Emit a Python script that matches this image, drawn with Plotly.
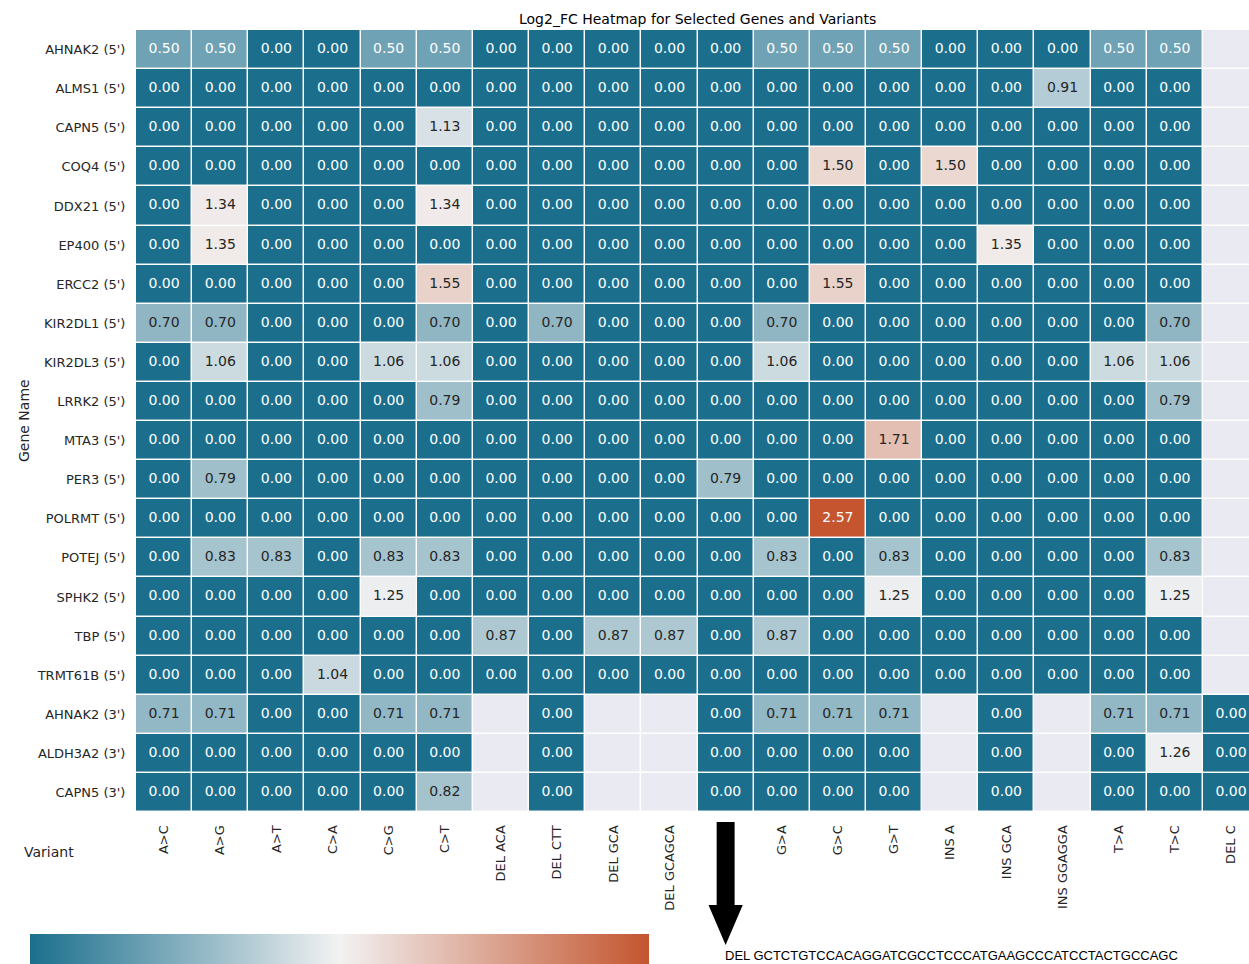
import math
import plotly.graph_objects as go

# ---------------------------------------------------------------- data
genes = [
    "AHNAK2 (5')", "ALMS1 (5')", "CAPN5 (5')", "COQ4 (5')", "DDX21 (5')",
    "EP400 (5')", "ERCC2 (5')", "KIR2DL1 (5')", "KIR2DL3 (5')", "LRRK2 (5')",
    "MTA3 (5')", "PER3 (5')", "POLRMT (5')", "POTEJ (5')", "SPHK2 (5')",
    "TBP (5')", "TRMT61B (5')", "AHNAK2 (3')", "ALDH3A2 (3')", "CAPN5 (3')",
]

variants = [
    "A>C", "A>G", "A>T", "C>A", "C>G", "C>T", "DEL ACA", "DEL CTT", "DEL GCA",
    "DEL GCAGCA", "DEL GCTCTGTCCACAGGATCGCCTCCCATGAAGCCCATCCTACTGCCAGC",
    "G>A", "G>C", "G>T", "INS A", "INS GCA", "INS GGAGGA", "T>A", "T>C", "DEL C",
]

N = None  # variant not observed for this gene

# columns follow the order of `variants`
log2_fc = [
    [0.50, 0.50, 0.00, 0.00, 0.50, 0.50, 0.00, 0.00, 0.00, 0.00, 0.00, 0.50, 0.50, 0.50, 0.00, 0.00, 0.00, 0.50, 0.50, N],
    [0.00, 0.00, 0.00, 0.00, 0.00, 0.00, 0.00, 0.00, 0.00, 0.00, 0.00, 0.00, 0.00, 0.00, 0.00, 0.00, 0.91, 0.00, 0.00, N],
    [0.00, 0.00, 0.00, 0.00, 0.00, 1.13, 0.00, 0.00, 0.00, 0.00, 0.00, 0.00, 0.00, 0.00, 0.00, 0.00, 0.00, 0.00, 0.00, N],
    [0.00, 0.00, 0.00, 0.00, 0.00, 0.00, 0.00, 0.00, 0.00, 0.00, 0.00, 0.00, 1.50, 0.00, 1.50, 0.00, 0.00, 0.00, 0.00, N],
    [0.00, 1.34, 0.00, 0.00, 0.00, 1.34, 0.00, 0.00, 0.00, 0.00, 0.00, 0.00, 0.00, 0.00, 0.00, 0.00, 0.00, 0.00, 0.00, N],
    [0.00, 1.35, 0.00, 0.00, 0.00, 0.00, 0.00, 0.00, 0.00, 0.00, 0.00, 0.00, 0.00, 0.00, 0.00, 1.35, 0.00, 0.00, 0.00, N],
    [0.00, 0.00, 0.00, 0.00, 0.00, 1.55, 0.00, 0.00, 0.00, 0.00, 0.00, 0.00, 1.55, 0.00, 0.00, 0.00, 0.00, 0.00, 0.00, N],
    [0.70, 0.70, 0.00, 0.00, 0.00, 0.70, 0.00, 0.70, 0.00, 0.00, 0.00, 0.70, 0.00, 0.00, 0.00, 0.00, 0.00, 0.00, 0.70, N],
    [0.00, 1.06, 0.00, 0.00, 1.06, 1.06, 0.00, 0.00, 0.00, 0.00, 0.00, 1.06, 0.00, 0.00, 0.00, 0.00, 0.00, 1.06, 1.06, N],
    [0.00, 0.00, 0.00, 0.00, 0.00, 0.79, 0.00, 0.00, 0.00, 0.00, 0.00, 0.00, 0.00, 0.00, 0.00, 0.00, 0.00, 0.00, 0.79, N],
    [0.00, 0.00, 0.00, 0.00, 0.00, 0.00, 0.00, 0.00, 0.00, 0.00, 0.00, 0.00, 0.00, 1.71, 0.00, 0.00, 0.00, 0.00, 0.00, N],
    [0.00, 0.79, 0.00, 0.00, 0.00, 0.00, 0.00, 0.00, 0.00, 0.00, 0.79, 0.00, 0.00, 0.00, 0.00, 0.00, 0.00, 0.00, 0.00, N],
    [0.00, 0.00, 0.00, 0.00, 0.00, 0.00, 0.00, 0.00, 0.00, 0.00, 0.00, 0.00, 2.57, 0.00, 0.00, 0.00, 0.00, 0.00, 0.00, N],
    [0.00, 0.83, 0.83, 0.00, 0.83, 0.83, 0.00, 0.00, 0.00, 0.00, 0.00, 0.83, 0.00, 0.83, 0.00, 0.00, 0.00, 0.00, 0.83, N],
    [0.00, 0.00, 0.00, 0.00, 1.25, 0.00, 0.00, 0.00, 0.00, 0.00, 0.00, 0.00, 0.00, 1.25, 0.00, 0.00, 0.00, 0.00, 1.25, N],
    [0.00, 0.00, 0.00, 0.00, 0.00, 0.00, 0.87, 0.00, 0.87, 0.87, 0.00, 0.87, 0.00, 0.00, 0.00, 0.00, 0.00, 0.00, 0.00, N],
    [0.00, 0.00, 0.00, 1.04, 0.00, 0.00, 0.00, 0.00, 0.00, 0.00, 0.00, 0.00, 0.00, 0.00, 0.00, 0.00, 0.00, 0.00, 0.00, N],
    [0.71, 0.71, 0.00, 0.00, 0.71, 0.71, N, 0.00, N, N, 0.00, 0.71, 0.71, 0.71, N, 0.00, N, 0.71, 0.71, 0.00],
    [0.00, 0.00, 0.00, 0.00, 0.00, 0.00, N, 0.00, N, N, 0.00, 0.00, 0.00, 0.00, N, 0.00, N, 0.00, 1.26, 0.00],
    [0.00, 0.00, 0.00, 0.00, 0.00, 0.82, N, 0.00, N, N, 0.00, 0.00, 0.00, 0.00, N, 0.00, N, 0.00, 0.00, 0.00],
]

# ---------------------------------------------------------------- styling
FONT = "DejaVu Sans"
TEXT_DARK = "#262626"
NAN_BG = "#eaeaf2"
Z_MIN, Z_MAX = 0.0, 2.57
colorscale = [[0.0, "#1b6f8d"], [0.5, "#f2f2f2"], [1.0, "#c4552f"]]
LONG_LABEL = 20  # tick labels longer than this are written out under the axis


def hex_rgb(h):
    h = h.lstrip("#")
    return [int(h[i:i + 2], 16) for i in (0, 2, 4)]


def cell_rgb(v):
    t = (v - Z_MIN) / (Z_MAX - Z_MIN)
    t = min(max(t, 0.0), 1.0)
    for (p0, c0), (p1, c1) in zip(colorscale[:-1], colorscale[1:]):
        if t <= p1:
            f = (t - p0) / (p1 - p0)
            a, b = hex_rgb(c0), hex_rgb(c1)
            return [a[i] + f * (b[i] - a[i]) for i in range(3)]
    return hex_rgb(colorscale[-1][1])


def luminance(rgb):
    lin = []
    for c in rgb:
        c = c / 255.0
        lin.append(c / 12.92 if c <= 0.03928 else ((c + 0.055) / 1.055) ** 2.4)
    return 0.2126 * lin[0] + 0.7152 * lin[1] + 0.0722 * lin[2]


n_rows, n_cols = len(genes), len(variants)
col_idx = list(range(n_cols))
row_idx = list(range(n_rows))
tick_text = ["" if len(v) > LONG_LABEL else v for v in variants]

fig = go.Figure()

# background bricks for the cells that have no value
fig.add_trace(go.Heatmap(
    z=[[0] * n_cols for _ in range(n_rows)], x=col_idx, y=row_idx,
    colorscale=[[0, NAN_BG], [1, NAN_BG]], showscale=False,
    xgap=1.5, ygap=1.5, hoverinfo="skip",
))

fig.add_trace(go.Heatmap(
    z=log2_fc, x=col_idx, y=row_idx,
    zmin=Z_MIN, zmax=Z_MAX, colorscale=colorscale,
    xgap=1.5, ygap=1.5,
    colorbar=dict(
        orientation="h", xref="paper", yref="paper",
        x=-0.0952, xanchor="left", y=-0.156, yanchor="top",
        len=619, lenmode="pixels", thickness=40,
        outlinewidth=0, xpad=0, ypad=0, showticklabels=False, ticks="",
    ),
))

# annotated values
tx, ty, tt, tc = [], [], [], []
for r in row_idx:
    for c in col_idx:
        v = log2_fc[r][c]
        if v is None:
            continue
        tx.append(c)
        ty.append(r)
        tt.append(f"{v:.2f}")
        tc.append(TEXT_DARK if luminance(cell_rgb(v)) > 0.408 else "white")
fig.add_trace(go.Scatter(
    x=tx, y=ty, text=tt, mode="text",
    textfont=dict(family=FONT, size=14, color=tc),
    hoverinfo="skip", showlegend=False,
))

annotations = [
    dict(text="Log2_FC Heatmap for Selected Genes and Variants",
         xref="x", yref="paper", x=(n_cols - 1) / 2, y=1.0, yshift=11,
         xanchor="center", yanchor="middle",
         showarrow=False, font=dict(family=FONT, size=14, color="black")),
    dict(text="Gene Name", xref="paper", yref="paper", x=-0.1006, y=0.5,
         xanchor="center", yanchor="middle",
         textangle=-90, showarrow=False, font=dict(family=FONT, size=14, color=TEXT_DARK)),
    dict(text="Variant", xref="paper", yref="paper", x=-0.0782, y=-0.0512,
         xanchor="center", yanchor="middle",
         showarrow=False, font=dict(family=FONT, size=14, color=TEXT_DARK)),
]
shapes = []
for c, v in enumerate(variants):
    if len(v) <= LONG_LABEL:
        continue
    annotations.append(dict(
        text=v, xref="x", yref="paper", x=c, xshift=-3, y=-0.1829,
        xanchor="left", yanchor="middle", showarrow=False,
        font=dict(family="Liberation Sans", size=13, color="black")))
    # downward arrow pointing from the column to its written-out label
    sw, hw = 0.16, 0.305
    y0, y1, y2 = -0.0128, -0.1189, -0.1701
    shapes.append(dict(
        type="path", xref="x", yref="paper", fillcolor="black", line=dict(width=0),
        path=(f"M{c - sw},{y0} L{c + sw},{y0} L{c + sw},{y1} L{c + hw},{y1} "
              f"L{c},{y2} L{c - hw},{y1} L{c - sw},{y1} Z")))

fig.update_layout(
    width=1249, height=964,
    margin=dict(l=136, r=0, t=30, b=152, autoexpand=False),
    paper_bgcolor="white", plot_bgcolor="white",
    showlegend=False,
    annotations=annotations, shapes=shapes,
    xaxis=dict(
        tickmode="array", tickvals=col_idx, ticktext=tick_text,
        range=[-0.5, n_cols - 1.5 + 0.82], tickangle=-90,
        ticks="outside", ticklen=7, tickcolor="rgba(0,0,0,0)",
        tickfont=dict(family=FONT, size=13, color=TEXT_DARK),
        showgrid=False, zeroline=False, showline=False,
    ),
    yaxis=dict(
        tickmode="array", tickvals=row_idx, ticktext=genes,
        range=[n_rows - 0.5, -0.5],
        ticks="outside", ticklen=7, tickcolor="rgba(0,0,0,0)",
        tickfont=dict(family=FONT, size=13, color=TEXT_DARK),
        showgrid=False, zeroline=False, showline=False,
    ),
)

fig.write_html("out.html")
